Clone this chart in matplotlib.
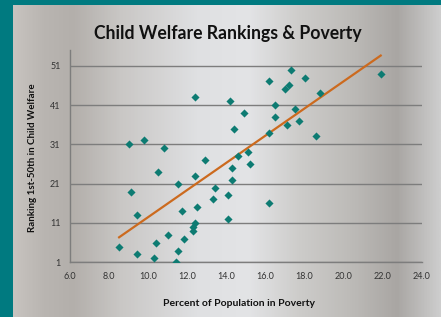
import matplotlib.pyplot as plt
import numpy as np
from matplotlib.colors import LinearSegmentedColormap

# %%
# Data: poverty rate (%) and child welfare rank per state
poverty = [8.5, 9.0, 9.1, 9.4, 9.4, 9.8, 10.3, 10.4, 10.5, 10.8,
           11.0, 11.4, 11.5, 11.5, 11.7, 11.8, 12.3, 12.3, 12.4, 12.4,
           12.4, 12.5, 12.9, 13.3, 13.4, 14.1, 14.1, 14.2, 14.3, 14.3,
           14.4, 14.6, 14.9, 15.1, 15.2, 16.2, 16.2, 16.2, 16.5, 16.5,
           17.0, 17.1, 17.2, 17.3, 17.5, 17.7, 18.0, 18.6, 18.8, 21.9]
ranking = [5, 31, 19, 13, 3, 32, 2, 6, 24, 30,
           8, 1, 4, 21, 14, 7, 9, 10, 23, 43,
           11, 15, 27, 17, 20, 18, 12, 42, 22, 25,
           35, 28, 39, 29, 26, 16, 47, 34, 38, 41,
           45, 36, 46, 50, 40, 37, 48, 33, 44, 49]

x_ticks = np.arange(6, 24.1, 2)
y_ticks = [1, 11, 21, 31, 41, 51]

W, H = 441, 317
fig = plt.figure(figsize=(W / 100, H / 100), dpi=100)
fig.patch.set_facecolor("#007a80")

# silver brushed-metal backdrop
bg = fig.add_axes([13 / W, 0, 1 - 13 / W, 1 - 5 / H])
bg.set_axis_off()
stops = [(0.00, "#c7c3bf"), (0.07, "#b9b5b1"), (0.14, "#b3afab"),
         (0.25, "#c9c7c5"), (0.43, "#dfe0e2"), (0.55, "#e3e4e6"),
         (0.67, "#cdccca"), (0.79, "#bdbbb8"), (0.90, "#a9a6a3"),
         (1.00, "#cdcdcd")]
cmap = LinearSegmentedColormap.from_list("silver", stops)
bg.imshow(np.linspace(0, 1, 400)[None, :], aspect="auto", cmap=cmap,
          extent=[0, 1, 0, 1])

ax = fig.add_axes([70.3 / W, 54.7 / H, 351.4 / W, 212.3 / H])
ax.patch.set_alpha(0)

ax.scatter(poverty, ranking, marker="D", s=17, color="#0d7b72", zorder=3,
           linewidths=0)

# linear trend line across the data range
slope, icpt = np.polyfit(poverty, ranking, 1)
xs = np.array([min(poverty), max(poverty)])
ax.plot(xs, slope * xs + icpt, color="#cc6a1e", lw=1.6, zorder=2)

ax.set_xlim(6, 24)
ax.set_ylim(1, 55)
ax.set_xticks(x_ticks)
ax.set_xticklabels([f"{v:.1f}" for v in x_ticks])
ax.set_yticks(y_ticks)
ax.grid(axis="y", color="#7d7d7d", lw=1)
ax.set_axisbelow(True)
for side in ["top", "right"]:
    ax.spines[side].set_visible(False)
for side in ["left", "bottom"]:
    ax.spines[side].set_color("#7d7d7d")
    ax.spines[side].set_linewidth(1)
ax.tick_params(length=0, labelsize=6.5, labelcolor="#333333", pad=7,
               labelfontfamily="Lato")

fig.text(228 / W, 1 - 33 / H, "Child Welfare Rankings & Poverty",
         ha="center", va="center", fontsize=12.7, fontweight="bold",
         family="Lato", color="#111111")
fig.text(238.5 / W, 1 - 304 / H, "Percent of Population in Poverty",
         ha="center", va="center", fontsize=7.5, fontweight="bold",
         family="Lato", color="#111111")
fig.text(33 / W, 1 - 158 / H, "Ranking 1st-50th in Child Welfare",
         ha="center", va="center", rotation=90, fontsize=7,
         fontweight="bold", family="Lato", color="#111111")

fig.savefig("out.png", dpi=100)
